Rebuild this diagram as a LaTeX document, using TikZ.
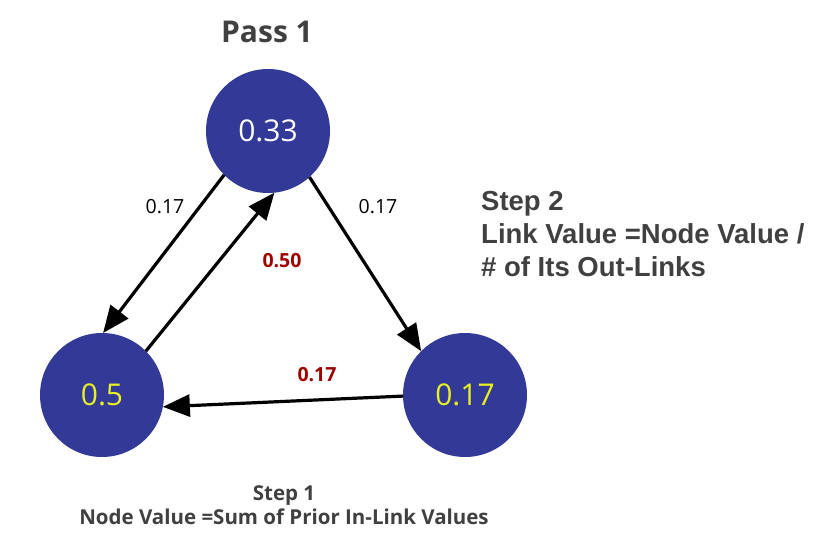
\documentclass[tikz,border=0pt]{standalone}
\usepackage{fontspec}
\setmainfont{Open Sans}
\newfontfamily\arialb{Liberation Sans}
\usetikzlibrary{arrows.meta}
\definecolor{nodeblue}{RGB}{50,57,151}
\definecolor{valyellow}{RGB}{232,240,32}
\definecolor{linkred}{RGB}{160,0,0}
\definecolor{txtgray}{RGB}{64,64,64}
\tikzset{
  pnode/.style={circle, fill=nodeblue, minimum size=124pt, inner sep=0pt, outer sep=0pt,
    font=\fontsize{30}{36}\selectfont},
  link/.style={line width=3.2pt, -{Triangle[length=27pt,width=22pt]}},
  blab/.style={font=\fontsize{19.5}{23}\selectfont, text=black, inner sep=0pt},
  rlab/.style={font=\bfseries\fontsize{19.5}{23}\selectfont, text=linkred, inner sep=0pt},
  stepa/.style={font=\arialb\bfseries\fontsize{27.5}{33}\selectfont, text=txtgray, inner sep=0pt, anchor=base west},
  stepb/.style={font=\bfseries\fontsize{20.5}{24}\selectfont, text=txtgray, inner sep=0pt, anchor=base},
}
\begin{document}
\begin{tikzpicture}[x=1pt,y=-1pt]
\useasboundingbox (0,0) rectangle (827,554);
\node[font=\bfseries\fontsize{30}{35}\selectfont, text=txtgray, inner sep=0pt] (title) at (267,32) {Pass 1};
\node[pnode, text=white] (top) at (268,131) {0.33};
\node[pnode, text=valyellow] (left) at (102,395) {0.5};
\node[pnode, text=valyellow] (right) at (465,395) {0.17};
\draw[link] (top.225.7) -- (left.89);
\draw[link] (left.45) -- (top.276.2);
\draw[link] (top.312.3) -- (right.135);
\draw[link] (right.181) -- (left.-11.7);
\node[blab] (l1) at (165,207) {0.17};
\node[blab] (l2) at (378,207) {0.17};
\node[rlab] (l3) at (282,261) {0.50};
\node[rlab] (l4) at (317,375) {0.17};
\node[stepa] (s2a) at (481,210) {Step 2};
\node[stepa] (s2b) at (481,243) {Link Value =Node Value /};
\node[stepa] (s2c) at (481,276.5) {\# of Its Out-Links};
\node[stepb] (s1a) at (284,500) {Step 1};
\node[stepb] (s1b) at (284,524) {Node Value =Sum of Prior In-Link Values};
\end{tikzpicture}
\end{document}
